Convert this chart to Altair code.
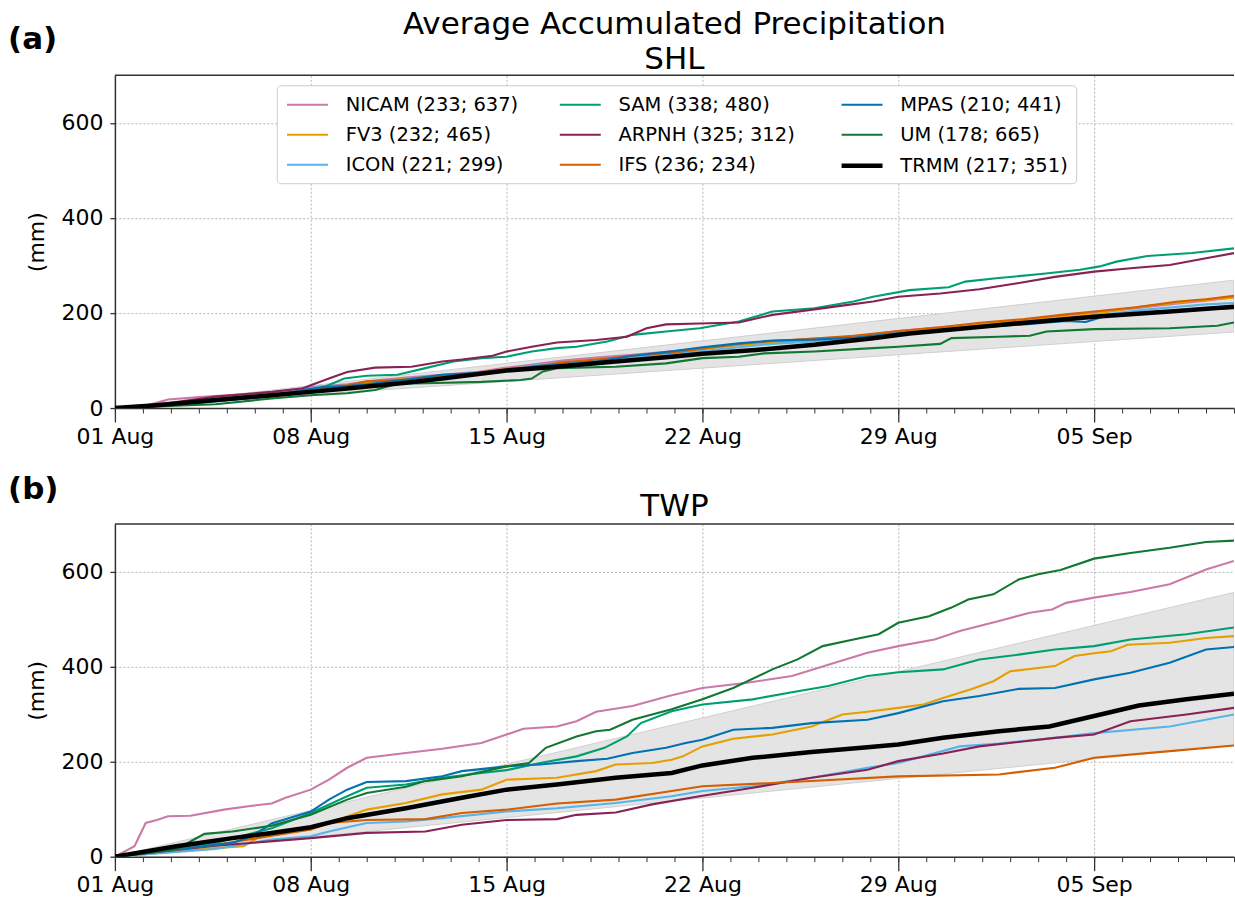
import altair as alt
import pandas as pd

# ---------------- data ----------------
labels = ["NICAM (233; 637)", "FV3 (232; 465)", "ICON (221; 299)",
          "SAM (338; 480)", "ARPNH (325; 312)", "IFS (236; 234)",
          "MPAS (210; 441)", "UM (178; 665)", "TRMM (217; 351)"]
colors = ["#CC79A7", "#E69F00", "#56B4E9",
          "#009E73", "#882255", "#D55E00",
          "#0072B2", "#117733", "#000000"]
widths = [2.1, 2.1, 2.1, 2.1, 2.1, 2.1, 2.1, 2.1, 4.5]

start_date = "2016-08-01"
n_days = 40
week_ticks = ["2016-08-01", "2016-08-08", "2016-08-15", "2016-08-22", "2016-08-29", "2016-09-05"]

# SHL (days since 01 Aug, accumulated mm)
shl_nicam_d = [0, 1, 1.9, 3, 4, 5.6, 7, 8.3, 9.3, 10.4, 11.7, 13, 14, 15, 16, 17.2, 18.5, 20, 21, 22.3, 23.5, 25, 26.4, 28, 29.5, 31, 32.5, 34, 35, 36.5, 38, 39, 40]
shl_nicam_v = [0, 3, 18, 23, 27, 33, 44, 50, 58, 64, 70, 76, 85, 92, 100, 106, 112, 120, 126, 133, 140, 146, 150, 162, 170, 177, 185, 196, 200, 210, 220, 226, 233]
shl_fv3_d = [0, 2, 3.6, 5.6, 7, 8, 9, 10.4, 11.7, 13, 14, 15, 16, 17.2, 18.5, 20, 21, 22.3, 23.5, 25, 26.4, 28, 29.5, 31, 32.5, 34, 35, 36.5, 38, 39, 40]
shl_fv3_v = [0, 8, 17, 27, 40, 44, 53, 62, 66, 73, 82, 88, 95, 102, 108, 115, 124, 132, 138, 143, 148, 158, 168, 176, 184, 192, 198, 212, 222, 228, 232]
shl_icon_d = [0, 2, 3.6, 5.6, 6.7, 7.5, 9, 10.4, 11.7, 13, 14, 15, 16, 17.2, 18.5, 20, 21, 22.3, 23.5, 25, 26.4, 28, 29.5, 31, 32.5, 34, 35, 36.5, 38, 39, 40]
shl_icon_v = [0, 10, 19, 28, 40, 45, 50, 58, 65, 72, 80, 90, 94, 100, 108, 114, 120, 128, 135, 140, 146, 155, 164, 172, 180, 188, 194, 205, 213, 218, 221]
shl_sam_d = [0, 2, 3.6, 5.6, 7, 7.5, 8.2, 9, 10.1, 11.1, 12.1, 13.1, 14, 14.9, 15.8, 16.5, 17.6, 18.5, 19.7, 20.9, 22.3, 23.5, 25, 26.4, 27.1, 28.4, 29.8, 30.4, 31.5, 33.1, 34.5, 35.2, 35.8, 36.9, 38.5, 40]
shl_sam_v = [0, 6, 15, 25, 38, 45, 62, 68, 70, 84, 98, 105, 108, 119, 126, 129, 140, 154, 161, 168, 182, 203, 210, 224, 234, 248, 254, 266, 273, 282, 291, 298, 308, 320, 326, 336]
shl_arpnh_d = [0, 1.9, 3.6, 5.6, 6.7, 7, 7.65, 8.3, 9.3, 10.6, 11.7, 12.4, 13.5, 14, 14.9, 15.8, 17.2, 18.3, 19, 19.7, 20.9, 22.3, 23.5, 24.8, 26.2, 27.1, 28, 29.5, 30.9, 32.2, 33.6, 35, 36.3, 37.7, 39, 40]
shl_arpnh_v = [0, 10, 24, 34, 41, 48, 62, 76, 85, 87, 98, 102, 110, 119, 129, 138, 143, 150, 168, 176, 178, 180, 196, 206, 217, 224, 234, 241, 250, 262, 276, 287, 294, 301, 315, 326]
shl_ifs_d = [0, 2, 3.6, 5.6, 7, 8.3, 9, 10.4, 11.7, 13, 14, 15, 16, 17.2, 18.5, 20, 21, 22.3, 23.5, 25, 26.4, 28, 29.5, 31, 32.5, 34, 35, 36.5, 38, 39, 40]
shl_ifs_v = [0, 9, 18, 28, 40, 48, 56, 60, 67, 74, 82, 87, 96, 102, 110, 117, 125, 135, 141, 146, 152, 162, 170, 180, 187, 197, 203, 212, 224, 229, 236]
shl_mpas_d = [0, 2, 3.6, 5.6, 6.7, 7.5, 8.3, 9, 10.4, 11.7, 13, 14, 15, 16, 17.2, 18.5, 20, 21, 22.3, 23.5, 25, 26.4, 28, 29.5, 31, 32.5, 34, 34.7, 35.5, 36.5, 38, 39, 40]
shl_mpas_v = [0, 6, 14, 25, 38, 44, 46, 50, 60, 70, 74, 78, 88, 92, 98, 110, 120, 128, 136, 142, 144, 148, 158, 162, 170, 176, 183, 181, 195, 200, 205, 208, 210]
shl_um_d = [0, 3.6, 5.6, 7, 8.3, 9.3, 10.1, 11.1, 13.1, 14.5, 14.9, 15.3, 15.8, 17.9, 19.7, 21, 22.3, 23.2, 25, 27.1, 28, 29.5, 29.9, 31.6, 32.7, 33.3, 35, 37.7, 39.4, 40]
shl_um_v = [0, 8, 20, 27, 31, 38, 51, 52, 55, 59, 62, 77, 84, 87, 94, 105, 108, 115, 119, 126, 129, 135, 147, 150, 152, 161, 166, 168, 173, 180]
shl_trmm_d = [0, 1.5, 3.6, 5.6, 7, 8.3, 10.4, 11.7, 14, 15.8, 17.9, 19.9, 21, 22.9, 25, 27.1, 28.4, 30.4, 32.2, 35, 37.7, 40]
shl_trmm_v = [0, 6, 17, 27, 34, 41, 53, 62, 79, 87, 98, 108, 114, 122, 133, 147, 157, 168, 178, 192, 203, 213]
shl_band_low = [0, 160]
shl_band_high = [0, 269]

# TWP
twp_nicam_d = [0, 0.7, 1.1, 1.5, 1.9, 2.7, 3.9, 4.9, 5.6, 6.1, 7, 7.65, 8.3, 9, 10.4, 11.7, 13.1, 14, 14.6, 15.8, 16.5, 17.2, 18.5, 19.8, 21, 22.6, 24.2, 25.5, 26.9, 28, 29.3, 30.2, 31.6, 32.7, 33.5, 34, 35, 36.3, 37.7, 39, 40]
twp_nicam_v = [0, 22, 71, 77, 85, 86, 99, 107, 112, 124, 141, 162, 187, 208, 218, 227, 239, 257, 269, 274, 285, 305, 317, 338, 355, 366, 380, 404, 429, 443, 457, 475, 496, 513, 520, 534, 545, 557, 573, 604, 622]
twp_fv3_d = [0, 3.6, 4.6, 5.2, 7, 7.65, 9, 10.4, 11.7, 13.1, 14, 15.8, 17.2, 17.9, 19.2, 19.9, 20.3, 21, 22.1, 23.5, 24.9, 26, 26.9, 28, 28.9, 29.6, 30.6, 31.4, 32, 33.6, 34.3, 35, 35.6, 36.2, 37.7, 39, 40]
twp_fv3_v = [0, 18, 22, 43, 57, 71, 99, 113, 131, 141, 162, 166, 180, 194, 197, 204, 211, 232, 248, 257, 274, 299, 305, 313, 320, 334, 352, 369, 390, 401, 422, 428, 432, 446, 450, 460, 464]
twp_icon_d = [0, 3.6, 5.6, 7, 7.65, 9, 10.4, 11.7, 14, 15.8, 17.9, 19.9, 21, 22.8, 24.9, 26.9, 28, 30.2, 31.6, 33.6, 35, 37.7, 40]
twp_icon_v = [0, 16, 36, 43, 53, 71, 74, 81, 95, 102, 113, 127, 138, 148, 166, 187, 197, 232, 238, 250, 260, 274, 299]
twp_sam_d = [0, 3.6, 5.6, 7, 8.3, 9, 10.4, 11.7, 13.1, 14, 15.2, 16.5, 17.5, 18.3, 18.8, 19.9, 21, 22.8, 24.2, 25.5, 26.9, 28, 29.6, 30.9, 32.3, 33.6, 35, 36.3, 38.3, 40]
twp_sam_v = [0, 29, 60, 92, 127, 145, 152, 166, 176, 182, 197, 211, 229, 253, 281, 306, 320, 331, 346, 359, 380, 388, 394, 415, 425, 436, 443, 457, 468, 482]
twp_arpnh_d = [0, 3.6, 7, 9, 11.1, 12.4, 14, 15.8, 16.5, 17.9, 19.2, 20.9, 22.8, 24.9, 26.9, 28, 29.6, 30.9, 33.6, 35, 36.3, 38.3, 40]
twp_arpnh_v = [0, 23, 39, 50, 53, 67, 77, 79, 88, 93, 110, 127, 145, 166, 183, 201, 217, 232, 250, 257, 285, 299, 313]
twp_ifs_d = [0, 3.6, 7, 7.65, 9, 11.1, 12.4, 14, 15.8, 17.9, 19.9, 21, 24.2, 28, 31.6, 33.6, 35, 37.7, 40]
twp_ifs_v = [0, 25, 57, 71, 77, 79, 92, 99, 112, 120, 138, 148, 157, 169, 173, 187, 208, 222, 234]
twp_mpas_d = [0, 2.2, 4.2, 4.9, 5.6, 7, 7.65, 8.3, 9, 10.4, 11.7, 12.4, 14, 15.2, 16.5, 17.6, 18.5, 19.7, 20.4, 21, 22.1, 23.5, 24.9, 26.9, 28, 29.6, 30.9, 32.3, 33.6, 35, 36.3, 37.7, 39, 40]
twp_mpas_v = [0, 15, 29, 43, 70, 95, 120, 141, 157, 159, 169, 180, 190, 194, 201, 206, 218, 229, 239, 246, 267, 271, 281, 288, 302, 327, 338, 353, 355, 373, 387, 408, 436, 441]
twp_um_d = [0, 2.2, 2.7, 3.2, 4.2, 5.6, 7, 8.3, 9, 10.4, 11.1, 12.4, 14, 14.8, 15.4, 16.5, 17.2, 17.7, 18.5, 19.9, 21, 22.1, 23.5, 24.4, 25.3, 26.4, 27.3, 28, 29.1, 29.9, 30.5, 31.4, 32.3, 33, 33.8, 35, 36.3, 37.7, 39, 40]
twp_um_v = [0, 15, 32, 48, 53, 65, 88, 120, 134, 147, 159, 169, 190, 197, 229, 253, 264, 267, 288, 310, 331, 355, 394, 415, 443, 457, 468, 492, 506, 524, 541, 552, 583, 594, 603, 627, 639, 650, 662, 665]
twp_trmm_d = [0, 2.2, 4.2, 5.6, 7, 8.3, 10.4, 12.4, 14, 15.8, 17.9, 19.9, 21, 22.8, 24.9, 26.9, 28, 29.6, 31.6, 33.4, 35, 36.6, 38.3, 40]
twp_trmm_v = [0, 22, 39, 50, 62, 81, 102, 124, 141, 152, 166, 176, 192, 208, 220, 230, 236, 250, 264, 274, 296, 318, 331, 343]
twp_band_low = [0, 235]
twp_band_high = [0, 556]

# ---------------- helpers ----------------
t0 = pd.Timestamp(start_date, tz="UTC")


def to_iso(days):
    return [(t0 + pd.to_timedelta(d, unit="D")).strftime("%Y-%m-%dT%H:%M:%SZ") for d in days]


def series_frame(pairs):
    rows = []
    for lab, d, v in pairs:
        for t, val in zip(to_iso(d), v):
            rows.append({"date": t, "value": val, "model": lab})
    return pd.DataFrame(rows)


shl_models = series_frame([
    (labels[0], shl_nicam_d, shl_nicam_v), (labels[1], shl_fv3_d, shl_fv3_v),
    (labels[2], shl_icon_d, shl_icon_v), (labels[3], shl_sam_d, shl_sam_v),
    (labels[4], shl_arpnh_d, shl_arpnh_v), (labels[5], shl_ifs_d, shl_ifs_v),
    (labels[6], shl_mpas_d, shl_mpas_v), (labels[7], shl_um_d, shl_um_v)])
shl_trmm = series_frame([(labels[8], shl_trmm_d, shl_trmm_v)])
twp_models = series_frame([
    (labels[0], twp_nicam_d, twp_nicam_v), (labels[1], twp_fv3_d, twp_fv3_v),
    (labels[2], twp_icon_d, twp_icon_v), (labels[3], twp_sam_d, twp_sam_v),
    (labels[4], twp_arpnh_d, twp_arpnh_v), (labels[5], twp_ifs_d, twp_ifs_v),
    (labels[6], twp_mpas_d, twp_mpas_v), (labels[7], twp_um_d, twp_um_v)])
twp_trmm = series_frame([(labels[8], twp_trmm_d, twp_trmm_v)])

band_dates = to_iso([0, n_days])
shl_band = pd.DataFrame({"date": band_dates, "lo": shl_band_low, "hi": shl_band_high})
twp_band = pd.DataFrame({"date": band_dates, "lo": twp_band_low, "hi": twp_band_high})
daily = pd.DataFrame({"date": to_iso(list(range(n_days + 1)))})


def dt(s):
    ts = pd.Timestamp(s)
    return alt.DateTime(year=ts.year, month=ts.month, date=ts.day, utc=True)


end_date = (pd.Timestamp(start_date) + pd.Timedelta(days=n_days)).strftime("%Y-%m-%d")
xscale = alt.Scale(type="utc", domain=[dt(start_date), dt(end_date)], nice=False)
yscale = alt.Scale(domain=[0, 700], nice=False, zero=True)

FONT = "DejaVu Sans"
AXC = "#333333"
GRID = "#b5b5b5"

main_xaxis = alt.Axis(orient="bottom", values=[dt(s) for s in week_ticks], labelExpr="utcFormat(datum.value, '%d %b')",
                      tickSize=14, tickWidth=1.3, labelFontSize=22, labelPadding=4, grid=True, gridDash=[2, 2],
                      gridColor=GRID, gridWidth=1, domain=True, domainWidth=1.5, title=None, labelFlush=False,
                      labelFont=FONT, labelColor="black", tickColor=AXC, domainColor=AXC)
minor_xaxis = alt.Axis(orient="bottom", values=[dt(s) for s in pd.to_datetime(daily["date"]).dt.strftime("%Y-%m-%d")],
                       tickSize=5, tickWidth=1, labels=False, domain=False, grid=False, title=None, tickColor=AXC)
yaxis = alt.Axis(values=[0, 200, 400, 600], tickSize=5, tickWidth=1.3, labelFontSize=22, labelPadding=7,
                 labelFont=FONT, labelColor="black", tickColor=AXC, domainColor=AXC,
                 grid=True, gridDash=[2, 2], gridColor=GRID, gridWidth=1, domainWidth=1.5,
                 title="(mm)", titleFont=FONT, titleColor="black", titleFontSize=22, titleFontWeight="normal",
                 titlePadding=12)

legend = alt.Legend(orient="none", legendX=162, legendY=10, columns=3, title=None,
                    symbolType="M-1,0H3", symbolSize=420, labelFontSize=19.5, labelFont=FONT,
                    labelColor="black", labelOffset=36, columnPadding=37, rowPadding=9, padding=8,
                    fillColor="white", strokeColor="#cccccc", cornerRadius=4, labelLimit=400,
                    symbolOpacity=1)


def panel(models_df, trmm_df, band_df, title, tag, tag_y, title_dy, show_legend):
    lg = legend if show_legend else None
    color = alt.Color("model:N", scale=alt.Scale(domain=labels, range=colors), legend=lg)
    sw = alt.StrokeWidth("model:N", scale=alt.Scale(type="ordinal", domain=labels, range=widths), legend=lg)
    band = alt.Chart(band_df).mark_area(fill="#e4e4e4", stroke="#d0d0d0", strokeWidth=1, clip=True).encode(
        x=alt.X("date:T", scale=xscale, axis=None),
        y=alt.Y("lo:Q", scale=yscale, axis=yaxis),
        y2="hi:Q")
    lines = alt.Chart(models_df).mark_line(clip=True).encode(
        x=alt.X("date:T", scale=xscale, axis=main_xaxis),
        y=alt.Y("value:Q", scale=yscale, axis=yaxis),
        color=color, strokeWidth=sw)
    trmm = alt.Chart(trmm_df).mark_line(clip=True).encode(
        x=alt.X("date:T", scale=xscale, axis=None),
        y=alt.Y("value:Q", scale=yscale, axis=yaxis),
        color=color, strokeWidth=sw)
    minor = alt.Chart(daily).mark_point(opacity=0, size=0).encode(
        x=alt.X("date:T", scale=xscale, axis=minor_xaxis))
    top = alt.Chart(pd.DataFrame({"top": [700]})).mark_rule(color=AXC, strokeWidth=1.5).encode(
        y=alt.Y("top:Q", scale=yscale, axis=yaxis))
    tagc = alt.Chart(pd.DataFrame({"t": [tag]})).mark_text(
        align="left", baseline="alphabetic", font=FONT, fontSize=31, fontWeight="bold", color="black").encode(
        x=alt.value(-107), y=alt.value(tag_y), text="t:N")
    return alt.layer(band, lines, trmm, minor, top, tagc).resolve_axis(x="independent").properties(
        width=1120, height=333,
        title=alt.TitleParams(title, fontSize=31, font=FONT, fontWeight="normal", color="black",
                              lineHeight=35, offset=6, dy=title_dy))


pa = panel(shl_models, shl_trmm, shl_band, ["Average Accumulated Precipitation", "SHL"], "(a)", -26, 58, True)
pb = panel(twp_models, twp_trmm, twp_band, "TWP", "(b)", -25, 55, False)

chart = alt.vconcat(pa, pb, spacing=27).resolve_scale(color="independent", strokeWidth="independent").properties(
    padding={"left": 8, "top": 9, "right": 0, "bottom": 5}, background="white"
).configure_view(stroke=None)

chart.save("out.html", embed_options={"renderer": "svg", "actions": False})
